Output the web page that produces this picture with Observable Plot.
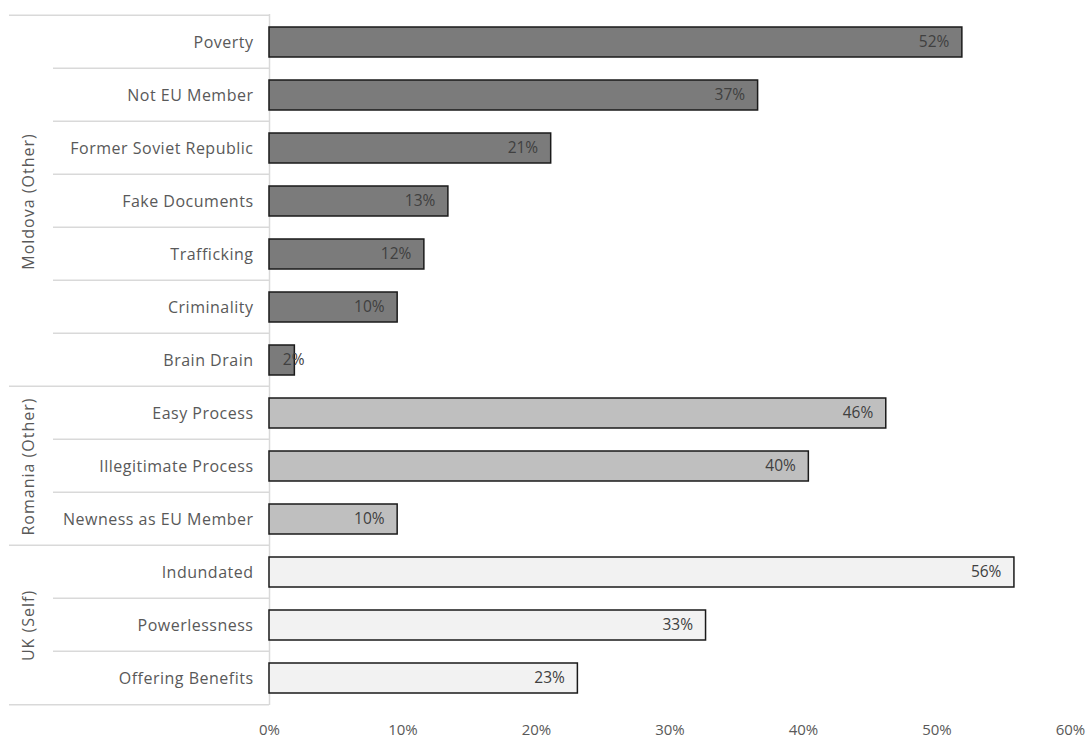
<!DOCTYPE html>
<html>
<head>
<meta charset="utf-8">
<script src="https://cdn.jsdelivr.net/npm/d3@7"></script>
<script src="https://cdn.jsdelivr.net/npm/@observablehq/plot@0.6"></script>
<style>
  html, body { margin: 0; padding: 0; background: #fff; }
  #chart svg { display: block; }
</style>
</head>
<body>
<div id="chart"></div>
<script>
const groups = ["Moldova (Other)", "Romania (Other)", "UK (Self)"];
const groupMid = ["Fake Documents", "Illegitimate Process", "Powerlessness"];
const moldovaCats = ["Poverty", "Not EU Member", "Former Soviet Republic", "Fake Documents", "Trafficking", "Criminality", "Brain Drain"];
const moldovaVals = [51.9, 36.6, 21.1, 13.4, 11.6, 9.6, 1.9];
const romaniaCats = ["Easy Process", "Illegitimate Process", "Newness as EU Member"];
const romaniaVals = [46.2, 40.4, 9.6];
const ukCats = ["Indundated", "Powerlessness", "Offering Benefits"];
const ukVals = [55.8, 32.7, 23.1];
const xTicks = [0, 10, 20, 30, 40, 50, 60];
const groupColors = ["#7b7b7b", "#bfbfbf", "#f2f2f2"];

const catLists = [moldovaCats, romaniaCats, ukCats];
const valLists = [moldovaVals, romaniaVals, ukVals];
const data = [];
catLists.forEach((cats, gi) => cats.forEach((c, i) => data.push({group: groups[gi], category: c, value: valLists[gi][i], first: i === 0})));
const categories = data.map(d => d.category);
const groupLabels = groups.map((g, i) => ({group: g, category: groupMid[i]}));

const font = "'Open Sans', 'Noto Sans', sans-serif";
const fmt = d => Math.round(d.value) + "%";

const chart = Plot.plot({
  width: 1091,
  height: 738,
  marginLeft: 269,
  marginRight: 21,
  marginTop: 14,
  marginBottom: 33,
  style: {fontFamily: font, fontSize: "14px", color: "#595959", background: "#fff"},
  x: {domain: [0, 60]},
  y: {domain: categories, paddingInner: 0.44, paddingOuter: 0.22},
  color: {domain: groups, range: groupColors},
  marks: [
    Plot.ruleX([0], {stroke: "#d9d9d9", strokeWidth: 1.5}),
    Plot.barX(data, {x: "value", y: "category", fill: "group", stroke: "#1a1a1a", strokeWidth: 1.5}),
    Plot.text(data.filter(d => d.value >= 5), {x: "value", y: "category", text: fmt, textAnchor: "end", dx: -13, fill: "#404040", fontSize: 15.5}),
    Plot.text(data.filter(d => d.value < 5), {x: "value", y: "category", text: fmt, textAnchor: "start", dx: -12, fill: "#404040", fontSize: 15.5}),
    Plot.axisY({tickSize: 0, tickPadding: 16, fontSize: 16, fill: "#595959", label: null}),
    Plot.axisX({ticks: xTicks, tickSize: 0, tickPadding: 19, tickFormat: d => d + "%", fontSize: 15, fill: "#595959", label: null}),
    Plot.text(groupLabels, {y: "category", text: "group", frameAnchor: "left", textAnchor: "middle", dx: -241, rotate: -90, fontSize: 16, fill: "#595959"})
  ]
});

const svg = d3.select(chart);
// letter spacing to approximate the wider reference face
svg.selectAll("[aria-label='y-axis tick label'] text").attr("letter-spacing", "0.5px");
svg.selectAll("g[aria-label='text']").filter((d, i, n) => n[i].textContent.includes("(")).selectAll("text").attr("letter-spacing", "1px");

// Row separators of the category table, positioned from the y scale
const ys = chart.scale("y");
const step = ys.step;
const half = step * ys.paddingInner / 2;
const sep = svg.append("g").attr("stroke", "#d9d9d9").attr("stroke-width", 1.5);
const frameLeft = 269;
data.forEach(d => {
  const y0 = ys.apply(d.category) - half;
  sep.append("line").attr("x1", d.first ? 9 : 53).attr("x2", frameLeft).attr("y1", y0).attr("y2", y0);
});
const last = data[data.length - 1];
const yEnd = ys.apply(last.category) + ys.bandwidth + half;
sep.append("line").attr("x1", 9).attr("x2", frameLeft).attr("y1", yEnd).attr("y2", yEnd);

document.getElementById("chart").appendChild(chart);
</script>
</body>
</html>
